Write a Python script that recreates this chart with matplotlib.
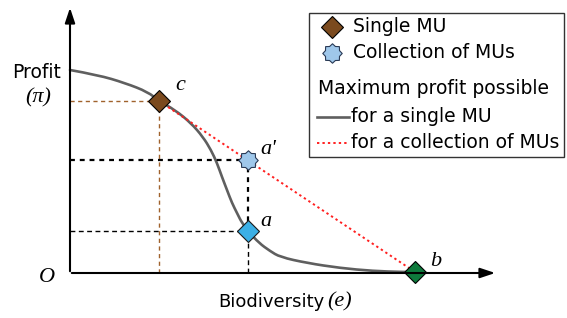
import matplotlib
matplotlib.use('Agg')
import matplotlib.pyplot as plt
from matplotlib.path import Path
from matplotlib.patches import Rectangle, PathPatch

plt.rcParams['font.family'] = ['DejaVu Sans']

# maximum profit curve for a single MU (biodiversity e, profit pi)
curve_e = [0, 28, 55, 78, 89, 105, 121, 133, 141, 147, 152, 157, 162, 167, 172, 179,
           189, 200, 210, 237, 270, 303, 333, 345]
curve_pi = [203, 198, 190, 181, 172, 163, 150, 136, 123, 110, 96, 83, 70, 60, 50, 41,
            30, 22, 16, 10, 5, 2, 1, 1]

# labelled points
point_names = ['c', "a'", 'a', 'b']
point_e = [89, 178, 178, 345]
point_pi = [172, 113, 42, 1]

SERIF = dict(family='Liberation Serif', style='italic')
BROWN = '#7b4a1e'
STAR = Path.unit_regular_star(8, 0.78)
FS = 13.5

fig = plt.figure(figsize=(5.67, 3.18), dpi=100)
ax = fig.add_axes([0, 0, 1, 1])
ax.set_xlim(-70, 497)
ax.set_ylim(-45, 273)
ax.axis('off')


def px(x, y):
    # pixel position in the picture -> data coordinates
    return x - 70, 273 - y


c_e, c_pi = point_e[0], point_pi[0]
a2_e, a2_pi = point_e[1], point_pi[1]
a_e, a_pi = point_e[2], point_pi[2]
b_e, b_pi = point_e[3], point_pi[3]

# guide lines
ax.plot([0, c_e], [c_pi, c_pi], color='#a0622d', lw=1, ls=(0, (3, 2.5)))
ax.plot([c_e, c_e], [0, c_pi], color='#a0622d', lw=1, ls=(0, (3, 2.5)))
ax.plot([0, a2_e], [a2_pi, a2_pi], color='black', lw=1.6, ls=(0, (2.2, 2.2)))
ax.plot([a2_e, a2_e], [a_pi, a2_pi], color='black', lw=1.6, ls=(0, (2.2, 2.2)))
ax.plot([0, a_e], [a_pi, a_pi], color='black', lw=1, ls=(0, (3.5, 2.5)))
ax.plot([a_e, a_e], [0, a_pi], color='black', lw=1, ls=(0, (3.5, 2.5)))

# axes with arrows
ax.annotate('', xy=(0, 268), xytext=(0, -1),
            arrowprops=dict(arrowstyle='-|>,head_length=0.9,head_width=0.3', color='black', lw=1.5))
ax.annotate('', xy=(428, 0), xytext=(-1, 0),
            arrowprops=dict(arrowstyle='-|>,head_length=0.9,head_width=0.3', color='black', lw=1.5))

# single-MU curve drawn as a smooth bezier path through the read points
pts = list(zip(curve_e, curve_pi))
verts = [pts[0]]
codes = [Path.MOVETO]
for i in range(1, len(pts) - 1):
    mid = ((pts[i][0] + pts[i + 1][0]) / 2, (pts[i][1] + pts[i + 1][1]) / 2)
    verts += [pts[i], mid]
    codes += [Path.CURVE3, Path.CURVE3]
verts.append(pts[-1])
codes.append(Path.LINETO)
ax.add_patch(PathPatch(Path(verts, codes), fill=False, ec='#5f5f5f', lw=1.9, capstyle='round'))

ax.plot([c_e, b_e], [c_pi, b_pi], color='#ff2020', lw=1.4, ls=(0, (1.2, 1.6)))

# markers
ax.plot(c_e, c_pi, 'D', ms=11, mfc=BROWN, mec='black', mew=0.8)
ax.plot(a_e, a_pi, 'D', ms=11, mfc='#3cb0e6', mec='#1a1a1a', mew=0.8)
ax.plot(b_e, b_pi, 'D', ms=11, mfc='#0e7a3c', mec='black', mew=0.8)
ax.plot(a2_e, a2_pi, marker=STAR, ms=14, mfc='#9fc7ea', mec='#2a3a55', mew=0.8, ls='none')

# point labels
label_pos = [(180, 86), (268, 149), (266, 222), (436, 262)]
for name, (x, y) in zip(point_names, label_pos):
    ax.text(*px(x, y), name, fontsize=16, ha='center', va='center', **SERIF)

# axis labels
ax.text(*px(37, 73), 'Profit', fontsize=FS, ha='center', va='center')
ax.text(*px(38, 98), '(π)', fontsize=16, ha='center', va='center', **SERIF)
ax.text(*px(47, 278), 'O', fontsize=16, ha='center', va='center', **SERIF)
ax.text(*px(324, 302), 'Biodiversity', fontsize=13, ha='right', va='center')
ax.text(*px(327, 302), '(e)', fontsize=16, ha='left', va='center', **SERIF)

# legend box
x0, y0 = px(309, 157)
ax.add_patch(Rectangle((x0, y0), 564 - 309, 157 - 13, fill=False, ec='#333333', lw=1))
ax.plot(*px(332, 27), 'D', ms=11, mfc=BROWN, mec='black', mew=0.8)
ax.text(*px(353, 27), 'Single MU', fontsize=FS, va='center')
ax.plot(*px(332, 53), marker=STAR, ms=14, mfc='#9fc7ea', mec='#2a3a55', mew=0.8)
ax.text(*px(353, 53), 'Collection of MUs', fontsize=FS, va='center')
ax.text(*px(318, 89), 'Maximum profit possible', fontsize=FS, va='center')
ax.plot(*zip(px(317, 117), px(349, 117)), color='#5f5f5f', lw=1.9)
ax.text(*px(351, 116), 'for a single MU', fontsize=FS, va='center')
ax.plot(*zip(px(317, 143), px(347, 143)), color='#ff2020', lw=1.4, ls=(0, (1.2, 1.6)))
ax.text(*px(351, 142), 'for a collection of MUs', fontsize=FS, va='center')

fig.savefig('out.png', dpi=100)
